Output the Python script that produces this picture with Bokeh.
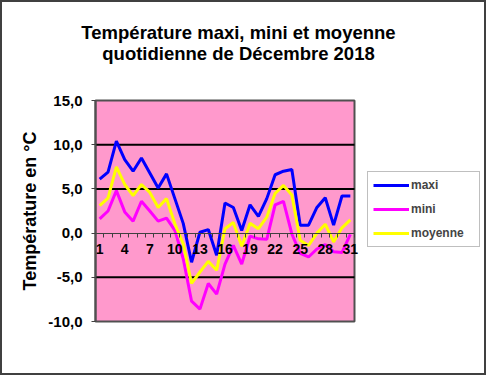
from bokeh.plotting import figure
from bokeh.models import Range1d, FixedTicker, Legend, LegendItem, Label
from bokeh.embed import file_html
from bokeh.resources import INLINE

# ---- data ----
days = list(range(1, 32))
maxi = [6.1, 6.9, 10.4, 8.3, 7.0, 8.5, 6.8, 5.1, 6.7, 3.9, 1.1, -3.3, 0.1, 0.4, -2.5,
        3.4, 2.9, 0.3, 3.2, 1.9, 3.9, 6.6, 7.0, 7.2, 0.9, 0.9, 2.9, 4.0, 0.9, 4.2, 4.2]
mini = [1.6, 2.5, 4.8, 2.4, 1.35, 3.6, 2.5, 1.35, 1.7, 0.3, -2.9, -7.7, -8.6, -5.7, -6.9,
        -3.5, -1.4, -3.5, -0.35, -0.65, -0.7, 3.2, 3.6, -0.1, -2.3, -2.7, -1.8, -1.3, -2.1, -2.2, -0.15]
moyenne = [3.1, 3.95, 7.5, 5.5, 4.25, 5.5, 4.6, 2.9, 3.9, 1.05, -1.2, -5.7, -4.4, -3.2, -4.2,
           0.5, 1.2, -1.5, 1.1, 0.5, 1.8, 4.5, 5.4, 4.3, -0.8, -1.4, 0.0, 1.0, -1.0, 0.6, 1.5]
x_ticks = days[::3]
x_labels = [str(d) for d in x_ticks]
y_ticks = [-10, -5, 0, 5, 10, 15]
y_labels = ["-10,0", "-5,0", "0,0", "5,0", "10,0", "15,0"]
grid_values = [-5, 5, 10]
title_lines = ["Température maxi, mini et moyenne", "quotidienne de Décembre 2018"]
y_title = "Température en °C"
series_names = ["maxi", "mini", "moyenne"]
series_colors = ["#0000FF", "#FF00FF", "#FFFF00"]

FONT = "Liberation Sans"

# ---- layout (pixels) ----
W, H = 486, 375
PX_L, PX_R, PX_T, PX_B = 95, 354, 100, 321   # plot area box
x0, x1 = days[0] - 0.5, days[-1] + 0.5
ymin, ymax = y_ticks[0], y_ticks[-1]
kx = (PX_R - PX_L) / (x1 - x0)
ky = (PX_B - PX_T) / (ymax - ymin)


def dx(px):
    return x0 + (px - PX_L) / kx


def dy(py):
    return ymax - (py - PX_T) / ky


p = figure(width=W, height=H, output_backend="svg", toolbar_location=None, title_location=None,
           x_range=Range1d(dx(0), dx(W)), y_range=Range1d(dy(H), dy(0)),
           min_border=0, min_border_left=0, min_border_right=0, min_border_top=0, min_border_bottom=0)

p.background_fill_color = "white"
p.border_fill_color = "white"
p.outline_line_color = "#404040"
p.outline_line_width = 3

# plot area (pink box)
p.quad(left=[x0], right=[x1], bottom=[ymin], top=[ymax], fill_color="#FF99CC",
       line_color="#505050", line_width=2, level="image")

# horizontal grid lines limited to the plot area
p.xgrid.visible = False
p.ygrid.visible = False
p.segment(x0=[x0] * len(grid_values), x1=[x1] * len(grid_values), y0=grid_values, y1=grid_values,
          line_color="black", line_width=2, level="underlay")

# x axis at zero
xa = p.xaxis[0]
xa.ticker = FixedTicker(ticks=x_ticks, minor_ticks=[d - 0.5 for d in days] + [days[-1] + 0.5])
xa.fixed_location = 0
xa.bounds = (x0, x1)
xa.major_label_overrides = dict(zip(x_ticks, x_labels))
xa.major_tick_line_color = None
xa.major_tick_out = 4
xa.major_tick_in = 0
xa.minor_tick_out = 4
xa.minor_tick_in = 0
xa.minor_tick_line_color = "#404040"
xa.axis_line_color = "#404040"
xa.axis_line_width = 1
xa.major_label_standoff = 7
xa.major_label_text_font = FONT
xa.major_label_text_font_style = "bold"
xa.major_label_text_font_size = "14px"
xa.major_label_text_color = "black"

# y axis at the left edge of the plot area
ya = p.yaxis[0]
ya.ticker = FixedTicker(ticks=y_ticks, minor_ticks=[])
ya.fixed_location = x0
ya.bounds = (ymin, ymax)
ya.major_label_overrides = dict(zip(y_ticks, y_labels))
ya.axis_line_color = "#505050"
ya.axis_line_width = 2
ya.major_tick_line_color = "#404040"
ya.major_tick_out = 4
ya.major_tick_in = 0
ya.major_label_standoff = 9
ya.major_label_text_font = FONT
ya.major_label_text_font_style = "bold"
ya.major_label_text_font_size = "15px"
ya.major_label_text_color = "black"
ya.axis_label = y_title
ya.axis_label_text_font = FONT
ya.axis_label_text_font_style = "bold"
ya.axis_label_text_font_size = "18px"
ya.axis_label_text_color = "black"
ya.axis_label_standoff = 5

# lines
renderers = []
for vals, col in zip([maxi, mini, moyenne], series_colors):
    renderers.append(p.line(days, vals, line_color=col, line_width=3))

legend = Legend(items=[LegendItem(label=n, renderers=[r]) for n, r in zip(series_names, renderers)],
                location=(367, H - 247))
legend.border_line_color = "#808080"
legend.border_line_width = 1
legend.background_fill_color = "white"
legend.background_fill_alpha = 1
legend.label_text_font = FONT
legend.label_text_font_style = "bold"
legend.label_text_font_size = "12px"
legend.glyph_width = 36
legend.glyph_height = 16
legend.label_height = 16
legend.label_width = 63
legend.label_standoff = 2
legend.spacing = 8
legend.padding = 5
legend.margin = 0
p.add_layout(legend, "center")

# title
for txt, base in zip(title_lines, [32, 53]):
    p.add_layout(Label(x=dx(238), y=dy(base), text=txt, text_align="center",
                       text_baseline="alphabetic", text_font=FONT, text_font_style="bold",
                       text_font_size="18.5px", text_color="black"))

open("out.html", "w").write(file_html(p, INLINE))
